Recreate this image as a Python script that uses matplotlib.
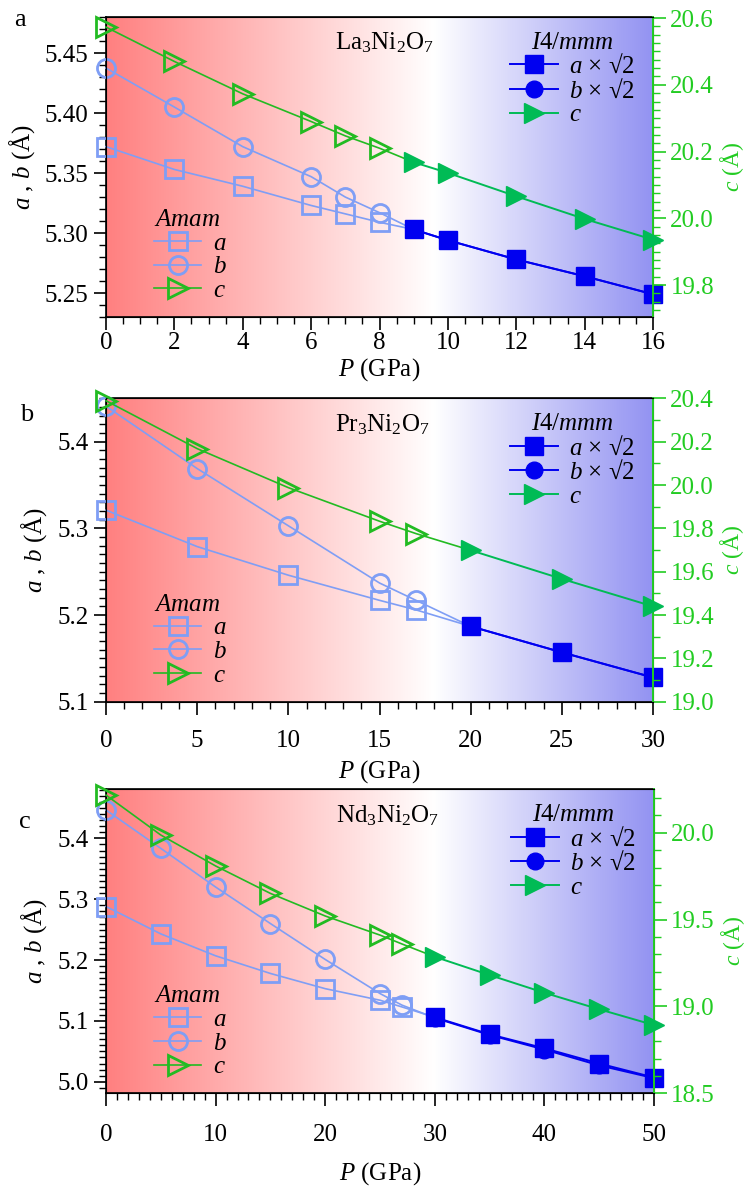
import numpy as np
import matplotlib.pyplot as plt
from matplotlib.colors import LinearSegmentedColormap
from matplotlib.ticker import MultipleLocator

plt.rcParams['font.family'] = ['Liberation Serif', 'DejaVu Serif']
plt.rcParams['mathtext.fontset'] = 'custom'
plt.rcParams['mathtext.rm'] = 'Liberation Serif'
plt.rcParams['mathtext.it'] = 'Liberation Serif:italic'

# ---- La3Ni2O7 ----
la_p_amam = [0, 2, 4, 6, 7, 8]
la_a_amam = [5.372, 5.353, 5.339, 5.323, 5.316, 5.309]
la_b_amam = [5.4375, 5.405, 5.372, 5.347, 5.330, 5.317]
la_c_amam = [20.573, 20.470, 20.373, 20.290, 20.247, 20.210]
la_p_i4 = [9, 10, 12, 14, 16]
la_a_i4 = [5.303, 5.294, 5.278, 5.264, 5.249]
la_b_i4 = [5.303, 5.294, 5.278, 5.264, 5.249]
la_c_i4 = [20.168, 20.136, 20.066, 19.998, 19.936]

# ---- Pr3Ni2O7 ----
pr_p_amam = [0, 5, 10, 15, 17]
pr_a_amam = [5.321, 5.279, 5.246, 5.217, 5.206]
pr_b_amam = [5.441, 5.369, 5.303, 5.237, 5.217]
pr_c_amam = [20.389, 20.168, 19.988, 19.833, 19.776]
pr_p_i4 = [20, 25, 30]
pr_a_i4 = [5.187, 5.157, 5.128]
pr_b_i4 = [5.187, 5.157, 5.128]
pr_c_i4 = [19.699, 19.567, 19.440]

# ---- Nd3Ni2O7 ----
nd_p_amam = [0, 5, 10, 15, 20, 25, 27]
nd_a_amam = [5.288, 5.243, 5.207, 5.178, 5.153, 5.134, 5.123]
nd_b_amam = [5.4465, 5.3835, 5.320, 5.260, 5.201, 5.145, 5.126]
nd_c_amam = [20.217, 19.987, 19.809, 19.651, 19.521, 19.411, 19.360]
nd_p_i4 = [30, 35, 40, 45, 50]
nd_a_i4 = [5.106, 5.078, 5.055, 5.030, 5.007]
nd_b_i4 = [5.105, 5.077, 5.053, 5.027, 5.006]
nd_c_i4 = [19.286, 19.181, 19.079, 18.984, 18.893]

panels = [
    dict(letter='a', name='La$_3$Ni$_2$O$_7$',
         pa=la_p_amam, aa=la_a_amam, ba=la_b_amam, ca=la_c_amam,
         pi=la_p_i4, ai=la_a_i4, bi=la_b_i4, ci=la_c_i4,
         xlim=(0, 16), xmaj=2, xmin=0.5, ylim=(5.23, 5.48), ymaj=0.05, ymin=0.01,
         y2lim=(19.704, 20.603), y2maj=0.2, y2min=0.025,
         pos=[0.1408, 0.7329, 0.7264, 0.2527], pad=2, lpad=1),
    dict(letter='b', name='Pr$_3$Ni$_2$O$_7$',
         pa=pr_p_amam, aa=pr_a_amam, ba=pr_b_amam, ca=pr_c_amam,
         pi=pr_p_i4, ai=pr_a_i4, bi=pr_b_i4, ci=pr_c_i4,
         xlim=(0, 30), xmaj=5, xmin=1, ylim=(5.1, 5.45), ymaj=0.1, ymin=0.01,
         y2lim=(19.0, 20.4), y2maj=0.2, y2min=0.1,
         pos=[0.1408, 0.4088, 0.7264, 0.2556], pad=11, lpad=5),
    dict(letter='c', name='Nd$_3$Ni$_2$O$_7$',
         pa=nd_p_amam, aa=nd_a_amam, ba=nd_b_amam, ca=nd_c_amam,
         pi=nd_p_i4, ai=nd_a_i4, bi=nd_b_i4, ci=nd_c_i4,
         xlim=(0, 50), xmaj=10, xmin=1, ylim=(4.981, 5.4805), ymaj=0.1, ymin=0.01,
         y2lim=(18.5, 20.25), y2maj=0.5, y2min=0.1,
         pos=[0.1408, 0.0789, 0.7277, 0.2561], pad=13, lpad=10),
]

letter_pos = [(0.027, 0.983), (0.035, 0.650), (0.033, 0.3075)]

light_blue = '#7f9ef5'
blue = '#0000f0'
green_open = '#22bb22'
green_fill = '#00bb55'
axis_green = '#22cc22'

bg = LinearSegmentedColormap.from_list(
    'bg', [(0.0, '#ff8080'), (0.6, '#ffffff'), (1.0, '#9393f2')])
grad = np.linspace(0, 1, 256).reshape(1, -1)

fig = plt.figure(figsize=(7.53, 11.87), dpi=100)

for k, p in enumerate(panels):
    ax = fig.add_axes(p['pos'])
    ax2 = ax.twinx()

    ax.imshow(grad, cmap=bg, aspect='auto', zorder=0,
              extent=[p['xlim'][0], p['xlim'][1], p['ylim'][0], p['ylim'][1]])

    # Amam lines run on to the first I4/mmm point
    xa = p['pa'] + [p['pi'][0]]
    every = list(range(len(p['pa'])))
    ha, = ax.plot(xa, p['aa'] + [p['ai'][0]], color=light_blue, lw=1.2,
                  marker='s', ms=13, mfc='none', mew=2, markevery=every,
                  zorder=3, clip_on=False, label='$a$')
    hb, = ax.plot(xa, p['ba'] + [p['bi'][0]], color=light_blue, lw=1.2,
                  marker='o', ms=13, mfc='none', mew=2, markevery=every,
                  zorder=3, clip_on=False, label='$b$')
    hc, = ax2.plot(xa, p['ca'] + [p['ci'][0]], color=green_open, lw=1.2,
                   marker='>', ms=14, mfc='none', mew=2, markevery=every,
                   zorder=3, clip_on=False, label='$c$')

    hbi, = ax.plot(p['pi'], p['bi'], color=blue, lw=1.4, marker='o', ms=12,
                   mfc=blue, mec=blue, zorder=4, clip_on=False, label='$b$ × √2')
    hai, = ax.plot(p['pi'], p['ai'], color=blue, lw=1.4, marker='s', ms=13,
                   mfc=blue, mec=blue, zorder=5, clip_on=False, label='$a$ × √2')
    hci, = ax2.plot(p['pi'], p['ci'], color=green_fill, lw=1.4, marker='>', ms=14,
                    mfc=green_fill, mec=green_fill, zorder=4, clip_on=False, label='$c$')

    ax.set_xlim(p['xlim'])
    ax.set_ylim(p['ylim'])
    ax2.set_ylim(p['y2lim'])
    ax.xaxis.set_major_locator(MultipleLocator(p['xmaj']))
    ax.xaxis.set_minor_locator(MultipleLocator(p['xmin']))
    ax.yaxis.set_major_locator(MultipleLocator(p['ymaj']))
    ax.yaxis.set_minor_locator(MultipleLocator(p['ymin']))
    ax2.yaxis.set_major_locator(MultipleLocator(p['y2maj']))
    ax2.yaxis.set_minor_locator(MultipleLocator(p['y2min']))
    if p['ymaj'] == 0.05:
        ax.yaxis.set_major_formatter('{x:.2f}')
    else:
        ax.yaxis.set_major_formatter('{x:.1f}')
    ax2.yaxis.set_major_formatter('{x:.1f}')

    ax.tick_params(axis='both', which='major', direction='out', length=9, width=1.2,
                   labelsize=18, color='black')
    ax.tick_params(axis='both', which='minor', direction='out', length=5, width=1.0)
    ax.tick_params(axis='x', which='major', pad=p['pad'])
    ax2.tick_params(axis='y', which='major', direction='out', length=9, width=1.2,
                    labelsize=18, colors=axis_green)
    ax2.tick_params(axis='y', which='minor', direction='out', length=5, width=1.0,
                    colors=axis_green)
    ax2.spines['right'].set_color(axis_green)
    ax2.spines['right'].set_linewidth(1.4)
    for s in ['left', 'bottom', 'top']:
        ax.spines[s].set_linewidth(1.2)

    ax.set_xlabel('$P$ (GPa)', fontsize=18, labelpad=p['lpad'])
    ax.set_ylabel('$a$ , $b$ (Å)', fontsize=18, labelpad=6)
    ax2.set_ylabel('$c$ (Å)', fontsize=17, color=axis_green, labelpad=3)

    ax.text(0.419, 0.913, p['name'], transform=ax.transAxes, fontsize=18,
            ha='left', va='center', zorder=6)

    leg1 = ax.legend(handles=[ha, hb, hc], title='$Amam$', loc='lower left',
                     bbox_to_anchor=(0.06, 0.0), frameon=False, fontsize=18,
                     title_fontsize=18, handlelength=1.9, handletextpad=0.45,
                     labelspacing=0.05, borderaxespad=0.2)
    leg1._legend_box.align = 'left'
    ax.add_artist(leg1)
    leg2 = ax.legend(handles=[hai, hbi, hci], title='$I4/mmm$', loc='upper right',
                     bbox_to_anchor=(0.985, 0.985), frameon=False, fontsize=18,
                     title_fontsize=18, handlelength=1.9, handletextpad=0.45,
                     labelspacing=0.05, borderaxespad=0.0)
    leg1.set_zorder(10)
    leg2.set_zorder(10)

    fig.text(letter_pos[k][0], letter_pos[k][1], p['letter'], fontsize=19,
             ha='center', va='center')

fig.savefig('out.png', dpi=100)
